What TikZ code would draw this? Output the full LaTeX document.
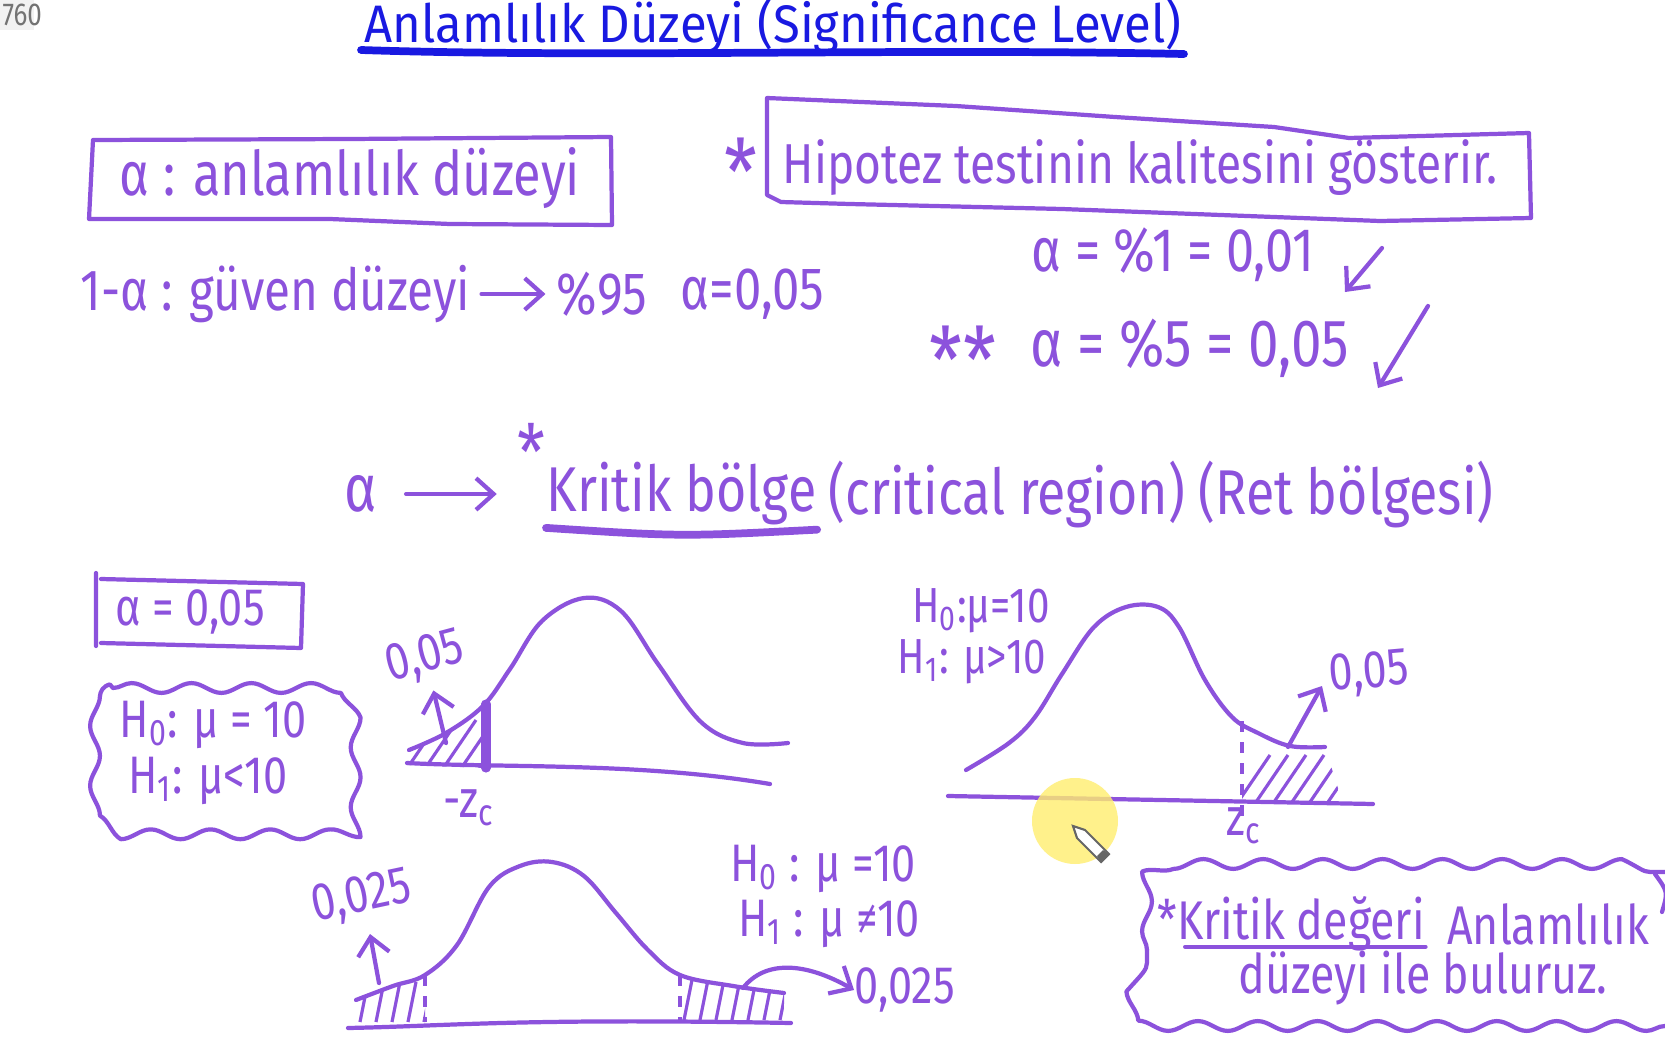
\documentclass[tikz,border=0pt]{standalone}
\usepackage{fontspec}
\setmainfont{Fira Sans}[FakeStretch=0.82]
\newfontfamily\titlefont{Fira Sans}[FakeStretch=0.93]
\usetikzlibrary{arrows.meta,decorations.pathmorphing,positioning}
\definecolor{ink}{RGB}{140,82,220}
\definecolor{titleblue}{RGB}{25,25,225}
\definecolor{glow}{RGB}{255,238,110}
\tikzset{
  hand/.style={text=ink,inner sep=0pt,font=\fontsize{#1}{#1}\selectfont},
  hand/.default=15,
  pen/.style={draw=ink,line width=1.2pt,line cap=round,line join=round},
  barb/.style={pen,-{Straight Barb[length=5pt,width=9pt]}},
  cloudline/.style={pen,decorate,decoration={snake,amplitude=1.4pt,segment length=17pt}},
  hatch/.style={draw=ink,line width=0.9pt},
  cutline/.style={draw=ink,line width=0.9pt,dashed},
}
\begin{document}
\begin{tikzpicture}[x=0.01cm,y=-0.01cm]
\useasboundingbox[fill=white] (0,0) rectangle (1665,1039);
\fill[black!5] (0,0) rectangle (34,30);
\node[text=black!55,inner sep=0pt,font=\fontsize{9}{9}\selectfont,anchor=west] (pageno) at (2,15) {760};

% title
\node[text=titleblue,inner sep=0pt,font=\titlefont\fontsize{15}{15}\selectfont,anchor=base] (title) at (773,42) {Anlamlılık Düzeyi (Significance Level)};
\draw[titleblue,line width=2.2pt,line cap=round] (361,50) .. controls (600,58) and (900,48) .. (1184,54);

% alpha and confidence
\node[hand=17.5] (adef) at (350,178) {α : anlamlılık düzeyi};
\draw[pen] (93,140) -- (350,139) -- (611,137) -- (612,225) -- (450,224) -- (330,219) -- (89,219) -- cycle;
\node[hand=16.5,anchor=west] (gdef) at (80,294) {1-α : güven düzeyi};
\node[hand=17,anchor=west] (p95) at (556,294) {\%95};
\node[hand=17,anchor=west] (a05) at (680,294) {α=0,05};
\draw[barb,shorten <=3pt,shorten >=3pt] (gdef) -- (p95);

% quality of the test
\node[hand=26] (star1) at (741,172) {*};
\node[hand=16] (hip) at (1140,168) {Hipotez testinin kalitesini gösterir.};
\draw[pen] (767,98) -- (956,106) -- (1115,117) -- (1274,127) -- (1349,138) -- (1529,133) -- (1531,218) -- (1380,221) -- (1062,209) -- (850,204) -- (781,202) -- (767,195) -- cycle;
\node[hand=17.5] (a1) at (1173,255) {α = \%1 = 0,01};
\coordinate (chk1a) at (1382,248);
\coordinate (chk1b) at (1345,292);
\draw[barb] (chk1a) -- (chk1b);
\node[hand=26] (star2) at (963,360) {**};
\node[hand=19] (a5) at (1190,348) {α = \%5 = 0,05};
\coordinate (chk2a) at (1428,306);
\coordinate (chk2b) at (1378,388);
\draw[barb] (chk2a) -- (chk2b);

% critical region
\node[hand=19] (acr) at (361,494) {α};
\node[hand=18,anchor=west] (kb) at (546,494) {Kritik bölge};
\node[hand=18,right=3pt of kb] (kbrest) {(critical region) (Ret bölgesi)};
\node[hand=22] (star3) at (531,452) {*};
\draw[barb,shorten <=8pt,shorten >=14pt] (acr) -- (kb);
\draw[pen,line width=2.2pt] ([yshift=-0.5pt]kb.south west) .. controls ([yshift=-3pt]kb.south) .. ([yshift=-1pt]kb.south east);

% alpha = 0,05 and one-sided hypotheses
\node[hand=15] (abox) at (190,612) {α = 0,05};
\draw[pen] (96,573) -- (96,646) (101,579) -- (303,584) -- (301,648) -- (101,643);
\node[hand=15] (h0a) at (213,725) {H\textsubscript{0}: μ = 10};
\node[hand=15] (h1a) at (208,781) {H\textsubscript{1}: μ<10};
\draw[cloudline] (113,688) -- (315,688) .. controls (340,688) .. (340,713) -- (340,811) .. controls (340,836) .. (315,836) -- (113,836) .. controls (84,836) .. (84,811) -- (84,713) .. controls (84,688) .. (113,688) -- cycle;

% left-tailed curve
\draw[pen] plot[smooth,tension=0.6] coordinates {(409,750) (446,733) (483,706) (510,669) (542,621) (584,598) (621,611) (658,664) (701,722) (743,743) (788,743)};
\draw[pen] (407,763) .. controls (500,768) and (640,762) .. (770,784);
\begin{scope}
  \clip plot[smooth,tension=0.6] coordinates {(409,750) (446,733) (483,706)} -- (486,768) -- (407,765) -- cycle;
  \foreach \x in {388,406,...,480} \draw[hatch] (\x,770) -- ++(34,-50);
\end{scope}
\draw[pen,line width=2.6pt] (486,704) -- (486,768);
\coordinate (tailA) at (446,743);
\node[hand=15,rotate=15] (l05a) at (425,658) {0,05};
\draw[barb,shorten >=3pt] (tailA) -- (l05a.south);
\node[hand=15] (zca) at (469,808) {-z\textsubscript{c}};

% right-tailed curve
\node[hand=14] (h0b) at (981,611) {H\textsubscript{0}:μ=10};
\node[hand=14] (h1b) at (972,662) {H\textsubscript{1}: μ>10};
\draw[pen] plot[smooth,tension=0.6] coordinates {(966,770) (1009,743) (1035,717) (1062,674) (1094,627) (1126,607) (1158,607) (1179,627) (1205,680) (1232,717) (1258,733) (1290,746) (1325,747)};
\draw[pen] (948,796) -- (1373,804);
\begin{scope}
  \clip plot[smooth,tension=0.6] coordinates {(1242,721) (1258,733) (1290,746) (1325,747)} -- (1342,801) -- (1242,801) -- cycle;
  \foreach \x in {1236,1254,...,1340} \draw[hatch] (\x,805) -- ++(34,-50);
\end{scope}
\draw[cutline] (1242,721) -- (1242,818);
\coordinate (tailB) at (1288,747);
\node[hand=15,rotate=5] (l05b) at (1369,674) {0,05};
\draw[barb] (tailB) -- (1322,686);
\node[hand=15] (zcb) at (1244,826) {z\textsubscript{c}};

% two-tailed curve
\node[hand=15] (h0c) at (823,869) {H\textsubscript{0} : μ =10};
\node[hand=15] (h1c) at (829,924) {H\textsubscript{1} : μ ≠10};
\draw[pen] plot[smooth,tension=0.6] coordinates {(356,1000) (393,986) (425,975) (457,945) (489,887) (520,866) (552,862) (584,876) (616,913) (648,950) (680,975) (733,986) (784,993)};
\draw[pen] (348,1028) .. controls (450,1026) and (520,1018) .. (791,1023);
\begin{scope}
  \clip plot[smooth,tension=0.6] coordinates {(356,1000) (393,986) (425,975)} -- (425,1024) -- (350,1027) -- cycle;
  \foreach \x in {360,376,...,424} \draw[hatch] (\x,1022) -- ++(8,-40);
\end{scope}
\begin{scope}
  \clip plot[smooth,tension=0.6] coordinates {(680,975) (733,986) (784,993)} -- (784,1023) -- (680,1023) -- cycle;
  \foreach \x in {684,700,...,780} \draw[hatch] (\x,1020) -- ++(8,-40);
\end{scope}
\draw[cutline] (425,975) -- (425,1022);
\draw[cutline] (680,975) -- (680,1022);
\coordinate (tailC) at (379,983);
\node[hand=15,rotate=12] (l025a) at (362,898) {0,025};
\draw[barb] (tailC) -- (370,934);
\coordinate (tailD) at (743,988);
\node[hand=15,anchor=west] (l025b) at (854,990) {0,025};
\draw[barb] (tailD) .. controls (765,960) and (805,962) .. (l025b.west);

% cursor
\fill[glow,opacity=0.8] (1075,821) circle (43);
\draw[black!60,fill=white,line width=0.6pt] (1073,826) -- (1085,830) -- (1109,854) -- (1101,862) -- (1077,838) -- cycle;
\fill[black!60] (1103,850) -- (1109,854) -- (1101,862) -- (1097,856) -- cycle;

% critical value note
\node[hand=15.5,anchor=west] (kd) at (1157,924) {*Kritik değeri};
\node[hand=15.5,right=6pt of kd] (kdrest) {Anlamlılık};
\node[hand=15.5] (kd2) at (1423,978) {düzeyi ile buluruz.};
\draw[pen] ([xshift=8pt,yshift=-2pt]kd.base west) -- ([yshift=-2pt]kd.base east);
\draw[cloudline] (1147,950) -- (1147,900) .. controls (1147,872) .. (1177,872) -- (1665,872);
\draw[cloudline] (1665,1026) -- (1177,1026) .. controls (1147,1026) .. (1147,996) -- (1147,950);
\draw[pen] (1655,874) .. controls (1668,892) .. (1662,912);
\end{tikzpicture}
\end{document}
